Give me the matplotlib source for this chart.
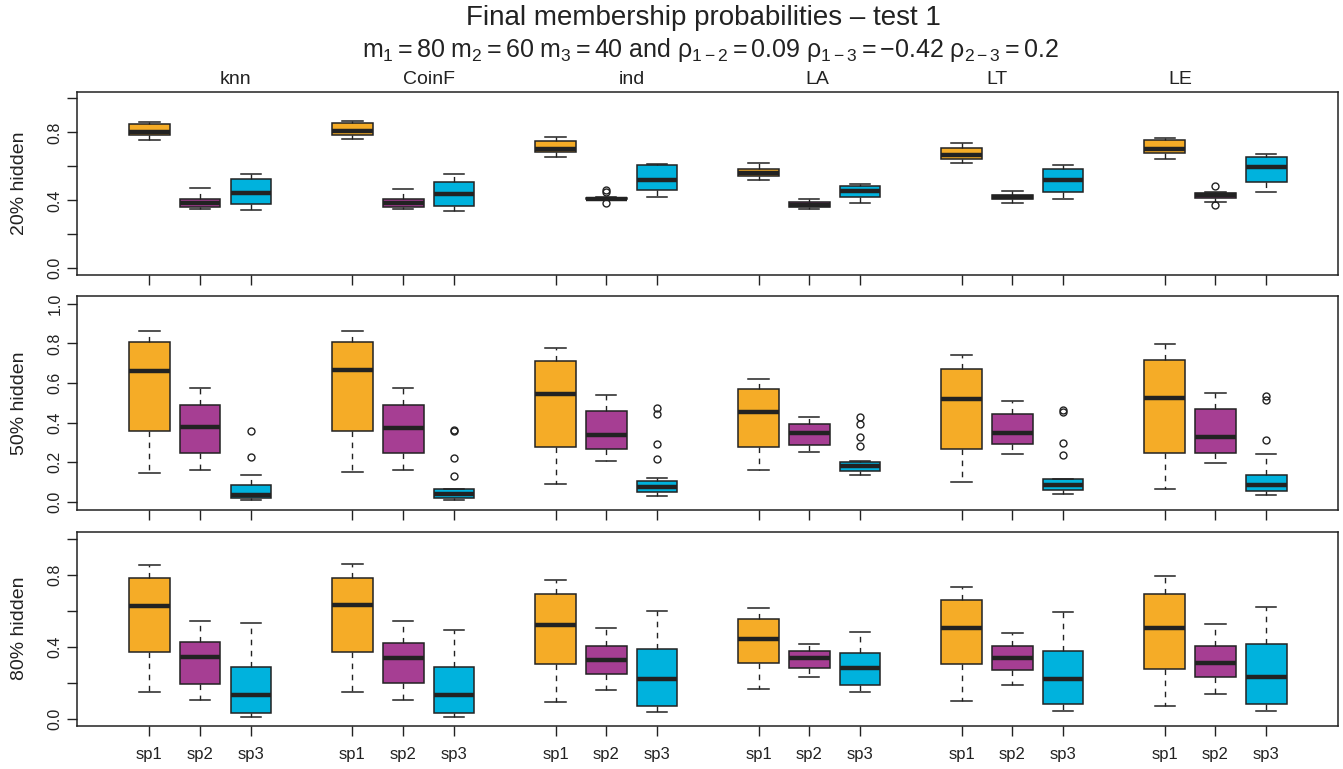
import matplotlib
matplotlib.use("Agg")
import matplotlib.pyplot as plt

plt.rcParams["font.family"] = ["Liberation Sans", "DejaVu Sans"]
plt.rcParams["mathtext.fontset"] = "custom"
plt.rcParams["mathtext.rm"] = "Liberation Sans"
plt.rcParams["mathtext.it"] = "Liberation Sans"
plt.rcParams["mathtext.bf"] = "Liberation Sans:bold"

methods = ["knn", "CoinF", "ind", "LA", "LT", "LE"]
species = ["sp1", "sp2", "sp3"]
hidden = ["20% hidden", "50% hidden", "80% hidden"]
colors = ["#F5AC27", "#A63E93", "#00B2DD"]
title_pos = [2.7, 6.5, 10.5, 14.15, 17.7, 21.3]

# whisker low, Q1, median, Q3, whisker high (knn sp1..sp3, CoinF sp1..sp3, ...)
h20 = [
    [0.755, 0.782, 0.805, 0.851, 0.861], [0.349, 0.361, 0.385, 0.410, 0.475], [0.343, 0.376, 0.445, 0.527, 0.557],
    [0.763, 0.783, 0.810, 0.853, 0.865], [0.347, 0.359, 0.385, 0.410, 0.469], [0.337, 0.369, 0.439, 0.510, 0.553],
    [0.655, 0.682, 0.702, 0.751, 0.771], [0.400, 0.405, 0.410, 0.415, 0.420], [0.418, 0.463, 0.522, 0.606, 0.616],
    [0.522, 0.541, 0.559, 0.582, 0.620], [0.349, 0.361, 0.375, 0.388, 0.408], [0.386, 0.418, 0.453, 0.484, 0.496],
    [0.618, 0.643, 0.667, 0.708, 0.739], [0.386, 0.406, 0.418, 0.431, 0.453], [0.410, 0.449, 0.518, 0.584, 0.608],
    [0.645, 0.678, 0.704, 0.757, 0.769], [0.392, 0.414, 0.431, 0.445, 0.449], [0.451, 0.506, 0.594, 0.657, 0.675],
]
h20_out = {7: [0.447, 0.458, 0.385], 16: [0.482, 0.373]}

h50 = [
    [0.148, 0.356, 0.661, 0.805, 0.861], [0.161, 0.249, 0.376, 0.487, 0.576], [0.010, 0.018, 0.038, 0.084, 0.134],
    [0.151, 0.358, 0.664, 0.808, 0.864], [0.161, 0.249, 0.375, 0.487, 0.575], [0.012, 0.018, 0.042, 0.064, 0.066],
    [0.092, 0.277, 0.545, 0.713, 0.776], [0.207, 0.269, 0.338, 0.459, 0.539], [0.032, 0.052, 0.076, 0.106, 0.119],
    [0.163, 0.277, 0.452, 0.570, 0.618], [0.254, 0.289, 0.348, 0.395, 0.430], [0.138, 0.155, 0.180, 0.203, 0.207],
    [0.099, 0.267, 0.519, 0.672, 0.739], [0.240, 0.292, 0.346, 0.445, 0.508], [0.039, 0.061, 0.086, 0.116, 0.118],
    [0.067, 0.245, 0.523, 0.718, 0.797], [0.198, 0.245, 0.326, 0.469, 0.548], [0.037, 0.055, 0.087, 0.134, 0.240],
]
h50_out = {2: [0.360, 0.225], 5: [0.358, 0.362, 0.220, 0.133], 8: [0.472, 0.445, 0.291, 0.215],
           11: [0.429, 0.393, 0.328, 0.284], 14: [0.462, 0.452, 0.297, 0.237], 17: [0.533, 0.516, 0.311]}

h80 = [
    [0.146, 0.369, 0.628, 0.780, 0.857], [0.104, 0.194, 0.343, 0.428, 0.544], [0.011, 0.030, 0.133, 0.287, 0.530],
    [0.150, 0.372, 0.630, 0.780, 0.861], [0.104, 0.196, 0.339, 0.420, 0.544], [0.011, 0.030, 0.133, 0.287, 0.494],
    [0.091, 0.302, 0.520, 0.691, 0.772], [0.161, 0.246, 0.324, 0.402, 0.502], [0.035, 0.072, 0.219, 0.387, 0.598],
    [0.163, 0.309, 0.443, 0.552, 0.615], [0.233, 0.280, 0.335, 0.374, 0.417], [0.150, 0.185, 0.280, 0.365, 0.483],
    [0.098, 0.302, 0.502, 0.657, 0.733], [0.185, 0.270, 0.337, 0.406, 0.478], [0.044, 0.081, 0.222, 0.378, 0.594],
    [0.069, 0.276, 0.504, 0.694, 0.793], [0.139, 0.230, 0.309, 0.406, 0.526], [0.044, 0.083, 0.233, 0.413, 0.622],
]
h80_out = {}


def make_stats(rows, outliers):
    stats = []
    for i, r in enumerate(rows):
        stats.append({"whislo": r[0], "q1": r[1], "med": r[2], "q3": r[3], "whishi": r[4],
                      "fliers": outliers.get(i, [])})
    return stats


def draw_panel(ax, rows, outliers, ylabel, show_xlabels, all_ylabels):
    positions = [4 * g + j + 1 for g in range(len(methods)) for j in range(len(species))]
    bp = ax.bxp(make_stats(rows, outliers), positions=positions, widths=0.8, capwidths=0.4,
                patch_artist=True, manage_ticks=False,
                boxprops=dict(edgecolor="#222222", linewidth=1.1),
                medianprops=dict(color="#222222", linewidth=3.2, solid_capstyle="butt"),
                whiskerprops=dict(color="#222222", linewidth=1.0, linestyle=(0, (4, 4))),
                capprops=dict(color="#222222", linewidth=1.1),
                flierprops=dict(marker="o", markersize=5, markerfacecolor="none",
                                markeredgecolor="#222222", markeredgewidth=1.0))
    for k, patch in enumerate(bp["boxes"]):
        patch.set_facecolor(colors[k % 3])
    ax.set_xlim(-0.42, 24.42)
    ax.set_ylim(-0.04, 1.04)
    ax.set_xticks(positions)
    if show_xlabels:
        ax.set_xticklabels(species * len(methods))
    else:
        ax.set_xticklabels([])
    ticks = [0.0, 0.2, 0.4, 0.6, 0.8, 1.0]
    ax.set_yticks(ticks)
    if all_ylabels:
        ax.set_yticklabels([f"{t:.1f}" for t in ticks])
    else:
        ax.set_yticklabels([f"{t:.1f}" if i % 2 == 0 else "" for i, t in enumerate(ticks)])
    for lab in ax.get_yticklabels():
        lab.set_rotation(90)
        lab.set_va("center")
    ax.tick_params(axis="both", direction="out", length=7.5, width=1.0, color="#222222",
                   labelsize=11.5, labelcolor="#222222")
    ax.tick_params(axis="x", labelsize=12, pad=8)
    ax.tick_params(axis="y", pad=3)
    for s in ax.spines.values():
        s.set_color("#222222")
        s.set_linewidth(1.1)
    ax.set_ylabel(ylabel, fontsize=14, color="#222222")
    ax.yaxis.set_label_coords(-0.039, 0.5)


fig = plt.figure(figsize=(13.43, 7.69), dpi=100)
W, H = 1343.0, 769.0
left, right = 77.3, 1338.3
boxes = [(91.7, 275.0), (295.7, 510.0), (531.7, 725.7)]
axes = []
for top, bottom in boxes:
    axes.append(fig.add_axes([left / W, 1 - bottom / H, (right - left) / W, (bottom - top) / H]))

draw_panel(axes[0], h20, h20_out, hidden[0], False, False)
draw_panel(axes[1], h50, h50_out, hidden[1], False, True)
draw_panel(axes[2], h80, h80_out, hidden[2], True, False)

for m, p in zip(methods, title_pos):
    axes[0].text(p, 1.064, m, transform=axes[0].get_xaxis_transform(), ha="center", va="center",
                 fontsize=14, color="#222222")

fig.text(0.524, 1 - 18 / H, "Final membership probabilities \u2013 test 1", ha="center", va="center",
         fontsize=20, color="#222222")
fig.text(0.529, 1 - 50 / H,
         r"$m_1 = 80\ m_2 = 60\ m_3 = 40\ \mathrm{and}\ \rho_{1-2} = 0.09\ \rho_{1-3} = -0.42\ \rho_{2-3} = 0.2$",
         ha="center", va="center", fontsize=18, color="#222222")

fig.savefig("out.png", dpi=100)
